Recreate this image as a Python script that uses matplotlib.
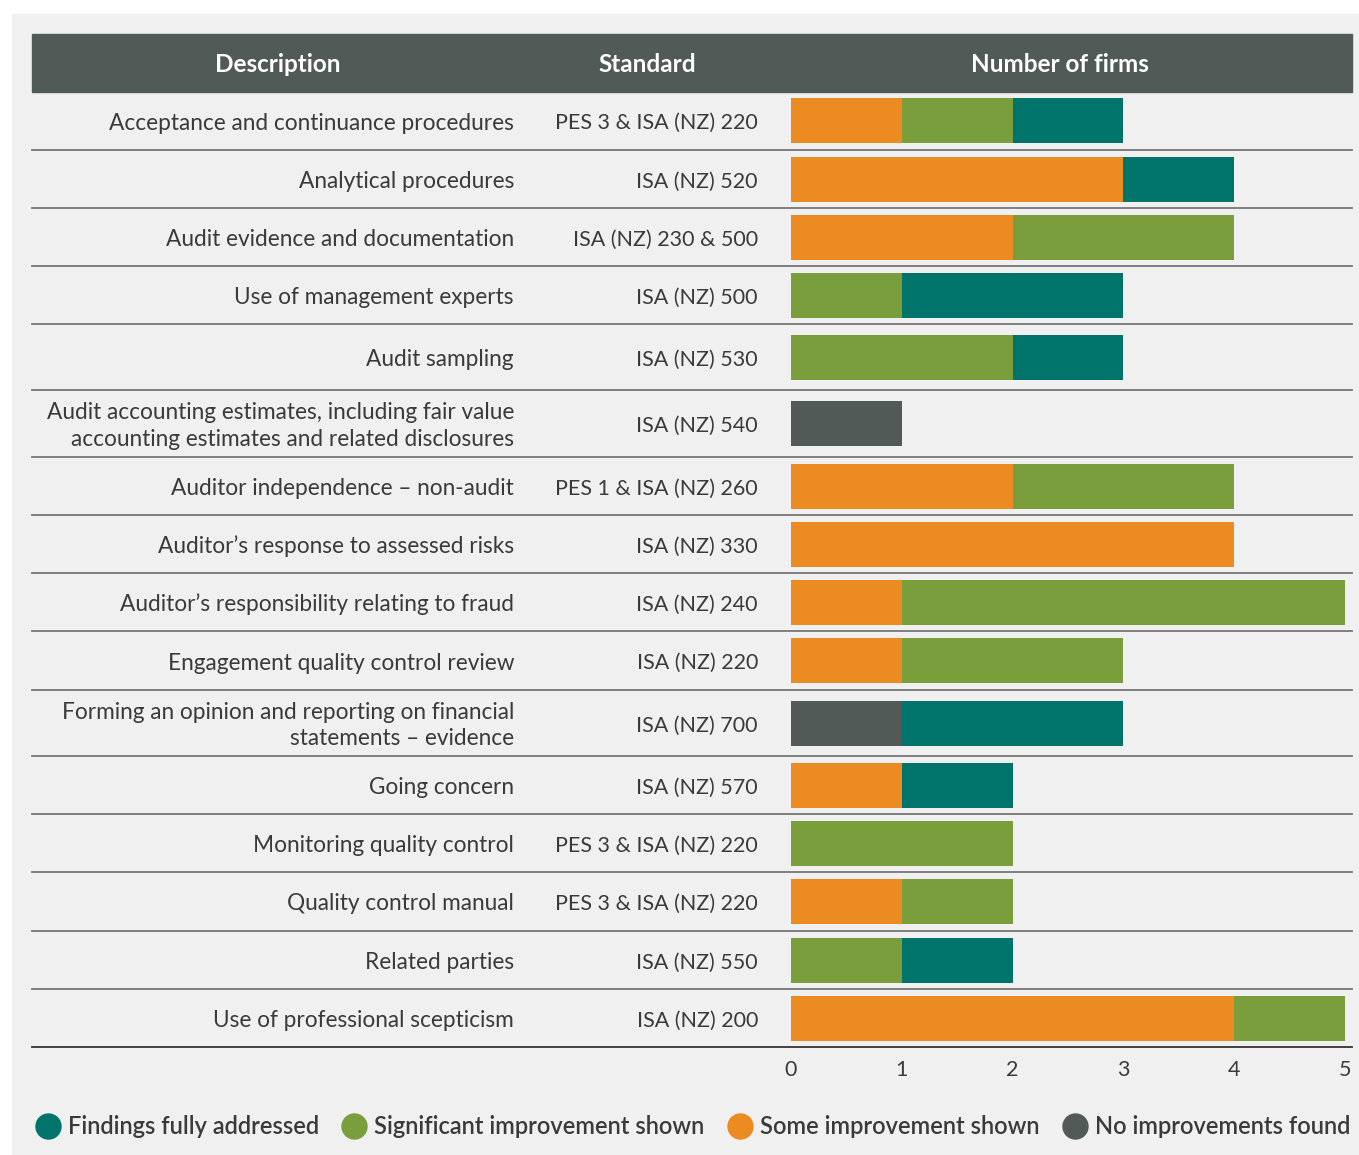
import matplotlib.pyplot as plt
from matplotlib.patches import Rectangle
from matplotlib.lines import Line2D
import numpy as np

plt.rcParams['font.family'] = ['Lato', 'DejaVu Sans']

descriptions = [
    "Acceptance and continuance procedures",
    "Analytical procedures",
    "Audit evidence and documentation",
    "Use of management experts",
    "Audit sampling",
    "Audit accounting estimates, including fair value\naccounting estimates and related disclosures",
    "Auditor independence \u2013 non-audit",
    "Auditor\u2019s response to assessed risks",
    "Auditor\u2019s responsibility relating to fraud",
    "Engagement quality control review",
    "Forming an opinion and reporting on financial\nstatements \u2013 evidence",
    "Going concern",
    "Monitoring quality control",
    "Quality control manual",
    "Related parties",
    "Use of professional scepticism",
]
standards = [
    "PES 3 & ISA (NZ) 220", "ISA (NZ) 520", "ISA (NZ) 230 & 500", "ISA (NZ) 500",
    "ISA (NZ) 530", "ISA (NZ) 540", "PES 1 & ISA (NZ) 260", "ISA (NZ) 330",
    "ISA (NZ) 240", "ISA (NZ) 220", "ISA (NZ) 700", "ISA (NZ) 570",
    "PES 3 & ISA (NZ) 220", "PES 3 & ISA (NZ) 220", "ISA (NZ) 550", "ISA (NZ) 200",
]
no_improvement = [0, 0, 0, 0, 0, 1, 0, 0, 0, 0, 1, 0, 0, 0, 0, 0]
some_improvement = [1, 3, 2, 0, 0, 0, 2, 4, 1, 1, 0, 1, 0, 1, 0, 4]
significant_improvement = [1, 0, 2, 1, 2, 0, 2, 0, 4, 2, 0, 0, 2, 1, 1, 1]
fully_addressed = [1, 1, 0, 2, 1, 0, 0, 0, 0, 0, 2, 1, 0, 0, 1, 0]

C_TEAL = '#00746a'
C_GREEN = '#7b9e3d'
C_ORANGE = '#eb8b21'
C_GREY = '#525a58'
TXT = '#3a3a3a'

W, H = 1359, 1155
fig = plt.figure(figsize=(W / 100, H / 100), dpi=100)
fig.patch.set_facecolor('white')

# layout axes in pixel units
ax0 = fig.add_axes([0, 0, 1, 1])
ax0.set_xlim(0, W)
ax0.set_ylim(H, 0)
ax0.axis('off')
ax0.add_patch(Rectangle((12, 14), W - 12, H - 14, color='#f0f0f0', zorder=0))
ax0.add_patch(Rectangle((32, 34), 1320, 57.5, color=C_GREY, zorder=1))
for x, t in [(278, 'Description'), (647, 'Standard'), (1060, 'Number of firms')]:
    ax0.text(x, 64, t, color='white', fontsize=17.5, fontweight='bold',
             ha='center', va='center')

# row geometry
row_h = np.array([59, 58, 58, 58, 66, 67, 58, 58, 58, 59, 66, 58, 58, 59, 58, 58])
edges = 91 + np.concatenate([[0], np.cumsum(row_h)])
centers = (edges[:-1] + edges[1:]) / 2

for i, y in enumerate(edges[1:]):
    col = '#333333' if i == len(row_h) - 1 else '#777777'
    ax0.plot([32, 1352], [y, y], color=col, lw=1.3, zorder=2)

for yc, d, s in zip(centers, descriptions, standards):
    ax0.text(514, yc + 2.5, d, ha='right', va='center', fontsize=16.3, color=TXT,
             multialignment='right', linespacing=1.3)
    ax0.text(758, yc + 2.5, s, ha='right', va='center', fontsize=15.5, color=TXT)

# bar axes
ax = fig.add_axes([791 / W, 1 - 1047 / H, 554 / W, (1047 - 91) / H])
ax.set_xlim(0, 5)
ax.set_ylim(1047, 91)
ax.patch.set_alpha(0)
for sp in ax.spines.values():
    sp.set_visible(False)

left = np.zeros(len(descriptions))
series = [(no_improvement, C_GREY), (some_improvement, C_ORANGE),
          (significant_improvement, C_GREEN), (fully_addressed, C_TEAL)]
for vals, col in series:
    ax.barh(centers, vals, left=left, height=45, color=col, zorder=3)
    left += np.array(vals)

ax.set_yticks([])
ax.set_xticks(range(6))
ax.tick_params(axis='x', length=0, pad=9, labelsize=15.5, labelcolor=TXT)

handles = [Line2D([], [], marker='o', ls='', markersize=18, color=c)
           for c in [C_TEAL, C_GREEN, C_ORANGE, C_GREY]]
labels = ['Findings fully addressed', 'Significant improvement shown',
          'Some improvement shown', 'No improvements found']
fig.legend(handles, labels, ncol=4, loc='center', bbox_to_anchor=(693 / W, 1 - 1127 / H),
           frameon=False, handletextpad=0.35, columnspacing=1.0, handlelength=1.0,
           prop=dict(weight='semibold', size=17), labelcolor=TXT)

fig.savefig('out.png', dpi=100, facecolor='white')
